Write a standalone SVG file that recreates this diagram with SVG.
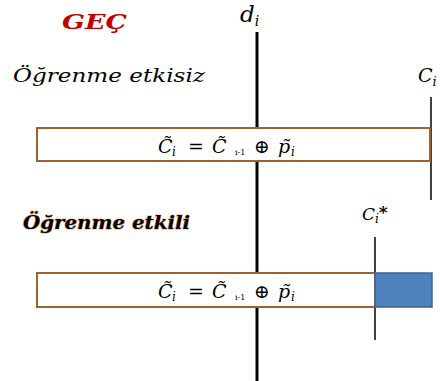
<svg xmlns="http://www.w3.org/2000/svg" width="440" height="381" viewBox="0 0 440 381">
<style>
.lbl{font-family:"DejaVu Serif","Liberation Serif",serif;font-style:italic;fill:#000}
.math{font-family:"DejaVu Serif","Liberation Serif",serif;font-style:italic;font-size:19px;fill:#000}
.sub{font-size:12px}
.tiny{font-size:8px;font-style:normal}
.up{font-style:normal}
.box{fill:#fff;stroke:#A0622D;stroke-width:2}
.ln{stroke:#000}
</style>
<rect width="440" height="381" fill="#fff"/>
<g id="title"><text x="62" y="29" class="lbl" font-weight="bold" font-size="20" style="fill:#C00000" textLength="65" lengthAdjust="spacingAndGlyphs">GEÇ</text></g>
<g id="d_label"><text x="240" y="22" class="lbl" font-size="23">d<tspan dy="4" font-size="14">i</tspan></text></g>
<g id="label_etkisiz"><text x="13" y="82" class="lbl" font-size="18" textLength="192" lengthAdjust="spacingAndGlyphs">Öğrenme etkisiz</text></g>
<g id="label_ci"><text x="418" y="82" class="lbl" font-size="19">C<tspan dy="4" font-size="13">i</tspan></text></g>
<g id="label_etkili"><text x="23" y="229" class="lbl" font-size="18" font-weight="bold" textLength="167" lengthAdjust="spacingAndGlyphs" style="paint-order:stroke;stroke:#E8B080;stroke-width:1.2">Öğrenme etkili</text></g>
<g id="label_cistar"><text x="362" y="220" class="lbl" font-size="17" fill="#222">C<tspan dy="3" font-size="12">i</tspan><tspan dy="-5" font-style="normal" font-weight="bold">*</tspan></text></g>
<g id="connectors">
<line class="ln" x1="257" y1="32" x2="257" y2="381" stroke-width="3"/>
<line class="ln" x1="431" y1="97" x2="431" y2="200" stroke-width="1.5"/>
<line class="ln" x1="375" y1="237" x2="375" y2="340" stroke-width="1.5"/>
</g>
<g id="box1">
<rect class="box" x="37" y="128" width="393" height="33"/>
<text class="math" y="153"><tspan x="158">C̃</tspan><tspan class="sub" x="172" dy="3">i</tspan><tspan class="up" x="188" dy="-3">=</tspan><tspan x="212">C̃</tspan><tspan class="tiny" x="235" dy="2">i-1</tspan><tspan class="up" x="254" dy="-2">⊕</tspan><tspan x="278">p̃</tspan><tspan class="sub" x="291" dy="3">i</tspan></text>
</g>
<g id="box2">
<rect class="box" x="37" y="273" width="338" height="34"/>
<rect x="375" y="273" width="57" height="34" fill="#4F81BD" stroke="#3A6496" stroke-width="1.5"/>
<text class="math" y="298"><tspan x="158">C̃</tspan><tspan class="sub" x="172" dy="3">i</tspan><tspan class="up" x="188" dy="-3">=</tspan><tspan x="212">C̃</tspan><tspan class="tiny" x="235" dy="2">i-1</tspan><tspan class="up" x="254" dy="-2">⊕</tspan><tspan x="278">p̃</tspan><tspan class="sub" x="291" dy="3">i</tspan></text>
</g>
</svg>
